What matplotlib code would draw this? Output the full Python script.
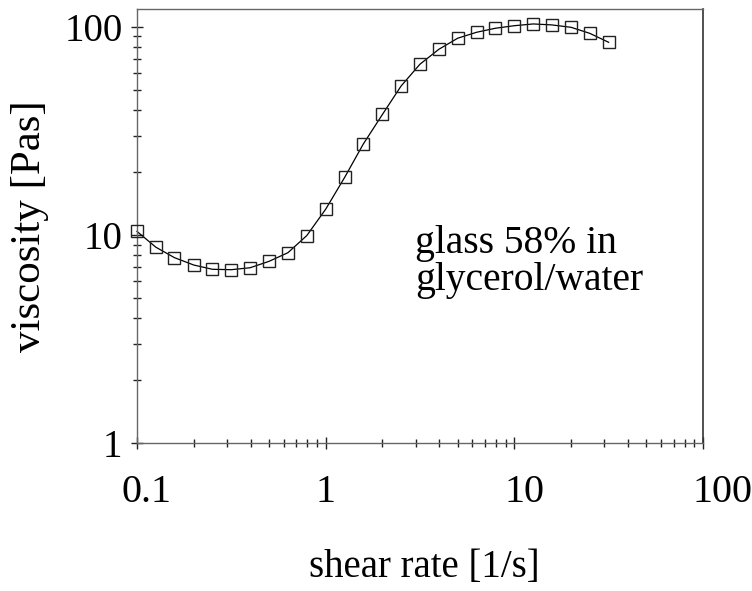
import matplotlib
matplotlib.use("Agg")
import matplotlib.pyplot as plt
from matplotlib.ticker import LogLocator, FixedLocator, FixedFormatter, NullFormatter
from matplotlib.transforms import ScaledTranslation

shear_rate = [0.1, 0.126, 0.158, 0.2, 0.251, 0.316, 0.398, 0.501, 0.631, 0.794,
              1.0, 1.26, 1.58, 2.0, 2.51, 3.16, 3.98, 5.01, 6.31, 7.94,
              10.0, 12.6, 15.8, 20.0, 25.1, 31.6]
viscosity = [10.4, 8.73, 7.78, 7.17, 6.84, 6.81, 6.96, 7.47, 8.22, 9.93,
             13.3, 18.9, 27.3, 38.0, 52.0, 66.2, 78.1, 88.3, 94.3, 98.6,
             101.4, 103.4, 102.3, 99.6, 93.2, 84.4]

x_ticks = [0.1, 1, 10, 100]
x_ticklabels = ["0.1", "1", "10", "100"]
y_ticks = [1, 10, 100]
y_ticklabels = ["1", "10", "100"]

plt.rcParams['font.family'] = ['Liberation Serif', 'DejaVu Serif']

W, H = 752, 591
fig = plt.figure(figsize=(W / 100, H / 100), dpi=100)
L, R, T, B = 137, 703, 9, 443
ax = fig.add_axes([L / W, 1 - B / H, (R - L) / W, (B - T) / H])

ax.set_xscale('log')
ax.set_yscale('log')
ax.set_xlim(0.1, 100)
ax.set_ylim(1, 122)

ax.plot(shear_rate, viscosity, color='black', linewidth=0.9, zorder=2, clip_on=False)
ax.plot(shear_rate, viscosity, linestyle='none', marker='s', markersize=8,
        markerfacecolor='none', markeredgecolor='#222222', markeredgewidth=1.0,
        zorder=3, clip_on=False)

ax.xaxis.set_major_locator(FixedLocator(x_ticks))
ax.xaxis.set_major_formatter(FixedFormatter(x_ticklabels))
ax.yaxis.set_major_locator(FixedLocator(y_ticks))
ax.yaxis.set_major_formatter(FixedFormatter(y_ticklabels))
ax.xaxis.set_minor_locator(LogLocator(base=10, subs=range(2, 10), numticks=20))
ax.yaxis.set_minor_locator(LogLocator(base=10, subs=range(2, 10), numticks=20))
ax.xaxis.set_minor_formatter(NullFormatter())
ax.yaxis.set_minor_formatter(NullFormatter())

ax.tick_params(which='both', direction='inout', top=False, right=False,
               color='#222222', width=1.0)
ax.tick_params(which='major', length=9)
ax.tick_params(which='minor', length=6)
ax.tick_params(axis='x', which='major', pad=18, labelsize=29)
ax.tick_params(axis='y', which='major', pad=6, labelsize=28)

# the scanned original places some x labels a little right of their ticks
x_label_shift_px = [10, 0, 10, 20]
for tick, dx in zip(ax.xaxis.get_major_ticks(), x_label_shift_px):
    tick.label1.set_transform(tick.label1.get_transform() +
                              ScaledTranslation(dx / 100, 0, fig.dpi_scale_trans))

for s in ['left', 'bottom', 'top']:
    ax.spines[s].set_color('#666666')
    ax.spines[s].set_linewidth(1.0)
ax.spines['right'].set_color('#333333')
ax.spines['right'].set_linewidth(1.2)

ax.text(0.491, 0.438, "glass 58% in", transform=ax.transAxes,
        ha='left', va='baseline', fontsize=28.5, color='black')
ax.text(0.491, 0.3525, "glycerol/water", transform=ax.transAxes,
        ha='left', va='baseline', fontsize=28.5, color='black')

fig.text(424 / W, 1 - 568 / H, "shear rate [1/s]", ha='center', va='center',
         fontsize=28)
fig.text(30 / W, 1 - 226 / H, "viscosity [Pas]", ha='center', va='center',
         fontsize=31, rotation=90)

fig.savefig("out.png", dpi=100)
